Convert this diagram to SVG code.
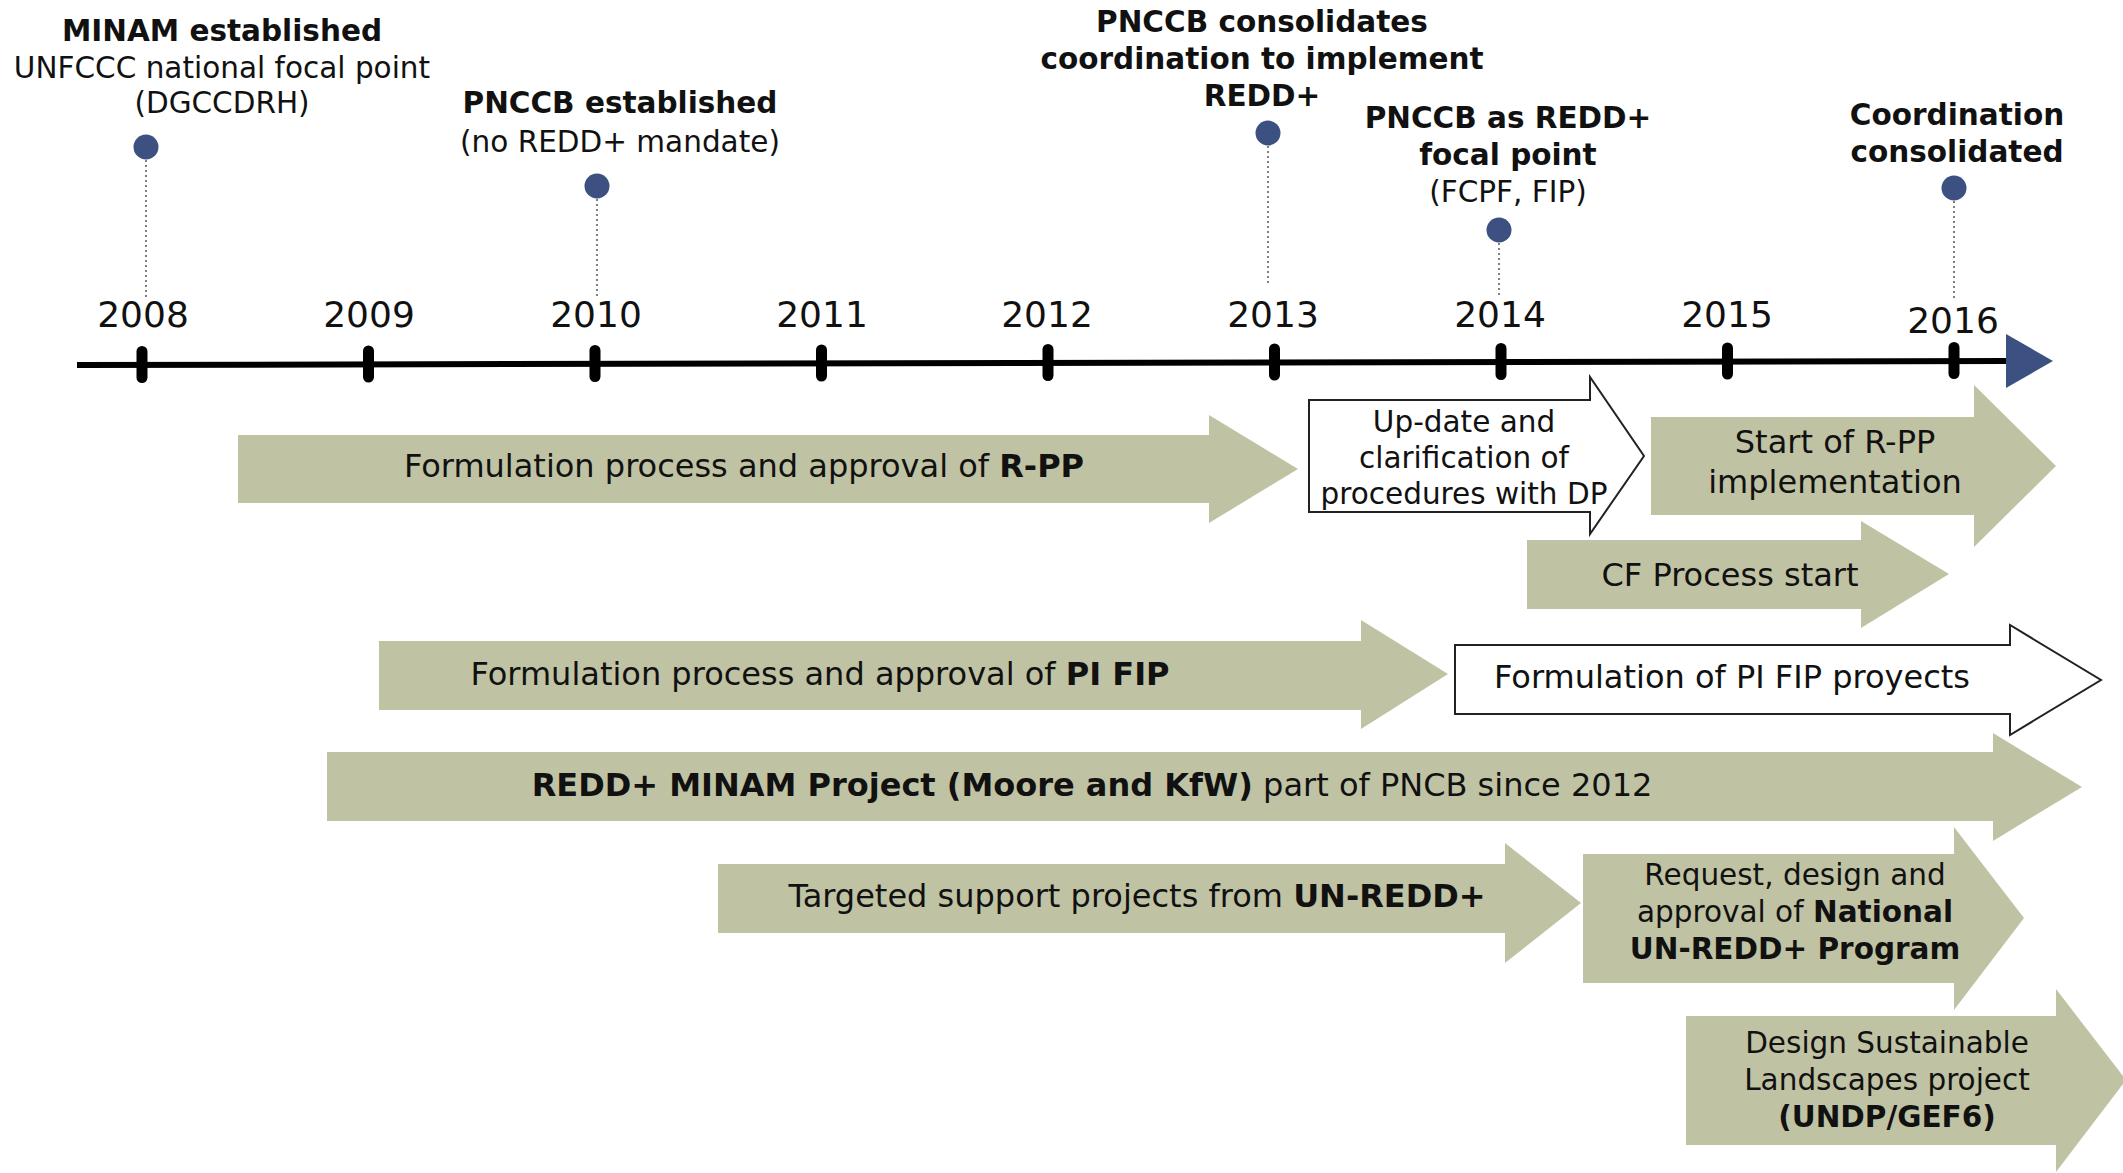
<svg xmlns="http://www.w3.org/2000/svg" width="2123" height="1173" viewBox="0 0 2123 1173">
<style>
text{font-family:"DejaVu Sans","Verdana",sans-serif;fill:#111;text-anchor:middle}
.lbl{font-size:29.5px}
.b{font-weight:bold}
.yr{font-size:36px;fill:#111}
.bar{fill:#c0c3a3}
.wbar{fill:#fff;stroke:#222;stroke-width:2}
.dot{fill:#3c5081}
.tick{fill:#000}
.lead{stroke:#555;stroke-width:1.5;stroke-dasharray:2 3;fill:none}
.t32{font-size:32px}
.t29{font-size:29.5px}
</style>

<g id="axis">
<line x1="77" y1="365" x2="2010" y2="361" stroke="#000" stroke-width="6"/>
<polygon points="2006,334 2053,361 2006,388" fill="#3c5081"/>
<rect class="tick" x="136.5" y="346" width="11" height="37" rx="5.5"/>
<rect class="tick" x="363" y="345.5" width="11" height="37" rx="5.5"/>
<rect class="tick" x="589.5" y="345" width="11" height="37" rx="5.5"/>
<rect class="tick" x="816" y="344.5" width="11" height="37" rx="5.5"/>
<rect class="tick" x="1042.5" y="344" width="11" height="37" rx="5.5"/>
<rect class="tick" x="1269" y="343.5" width="11" height="37" rx="5.5"/>
<rect class="tick" x="1495.5" y="343" width="11" height="37" rx="5.5"/>
<rect class="tick" x="1722" y="342.5" width="11" height="37" rx="5.5"/>
<rect class="tick" x="1948.5" y="342" width="11" height="37" rx="5.5"/>
<text class="yr" x="143" y="327">2008</text>
<text class="yr" x="369" y="327">2009</text>
<text class="yr" x="596" y="327">2010</text>
<text class="yr" x="822" y="327">2011</text>
<text class="yr" x="1047" y="327">2012</text>
<text class="yr" x="1273" y="327">2013</text>
<text class="yr" x="1500" y="327">2014</text>
<text class="yr" x="1727" y="327">2015</text>
<text class="yr" x="1953" y="333">2016</text>
</g>

<g id="connectors">
<line class="lead" x1="146" y1="160" x2="146" y2="298"/>
<line class="lead" x1="597" y1="199" x2="597" y2="298"/>
<line class="lead" x1="1268" y1="146" x2="1268" y2="285"/>
<line class="lead" x1="1499" y1="243" x2="1499" y2="295"/>
<line class="lead" x1="1954" y1="201" x2="1954" y2="300"/>
</g>

<g id="ev2008">
<circle class="dot" cx="146" cy="147" r="12.5"/>
<text class="lbl b" x="222" y="41">MINAM established</text>
<text class="lbl" x="222" y="78">UNFCCC national focal point</text>
<text class="lbl" x="222" y="113">(DGCCDRH)</text>
</g>
<g id="ev2010">
<circle class="dot" cx="597" cy="186" r="12.5"/>
<text class="lbl b" x="620" y="113">PNCCB established</text>
<text class="lbl" x="620" y="152">(no REDD+ mandate)</text>
</g>
<g id="ev2013">
<circle class="dot" cx="1268" cy="133" r="12.5"/>
<text class="lbl b" x="1262" y="32">PNCCB consolidates</text>
<text class="lbl b" x="1262" y="69">coordination to implement</text>
<text class="lbl b" x="1262" y="106">REDD+</text>
</g>
<g id="ev2014">
<circle class="dot" cx="1499" cy="230" r="12.5"/>
<text class="lbl b" x="1508" y="128">PNCCB as REDD+</text>
<text class="lbl b" x="1508" y="165">focal point</text>
<text class="lbl" x="1508" y="202">(FCPF, FIP)</text>
</g>
<g id="ev2016">
<circle class="dot" cx="1954" cy="188" r="12.5"/>
<text class="lbl b" x="1957" y="125">Coordination</text>
<text class="lbl b" x="1957" y="162">consolidated</text>
</g>

<g id="rpp">
<polygon class="bar" points="238,435 1209,435 1209,415 1298,469 1209,523 1209,503 238,503"/>
<text class="t32" x="744" y="477">Formulation process and approval of <tspan class="b">R-PP</tspan></text>
</g>
<g id="update">
<polygon class="wbar" points="1309,400 1590,400 1590,377 1644,456 1590,534 1590,512 1309,512"/>
<text class="t29" x="1464" y="432">Up-date and</text>
<text class="t29" x="1464" y="468">clarification of</text>
<text class="t29" x="1464" y="504">procedures with DP</text>
</g>
<g id="rppimpl">
<polygon class="bar" points="1651,417 1974,417 1974,385 2056,466 1974,547 1974,515 1651,515"/>
<text class="t32" x="1835" y="453">Start of R-PP</text>
<text class="t32" x="1835" y="493">implementation</text>
</g>
<g id="cf">
<polygon class="bar" points="1527,540 1861,540 1861,521 1949,574 1861,628 1861,609 1527,609"/>
<text class="t32" x="1730" y="586">CF Process start</text>
</g>
<g id="pifip">
<polygon class="bar" points="379,641 1361,641 1361,620 1448,674 1361,729 1361,710 379,710"/>
<text class="t32" x="820" y="685">Formulation process and approval of <tspan class="b">PI FIP</tspan></text>
</g>
<g id="pifipproj">
<polygon class="wbar" points="1455,645 2010,645 2010,625 2101,680 2010,735 2010,714 1455,714"/>
<text class="t32" x="1732" y="688">Formulation of PI FIP proyects</text>
</g>
<g id="minam">
<polygon class="bar" points="327,752 1993,752 1993,733 2082,787 1993,841 1993,821 327,821"/>
<text class="t32" x="1092" y="796"><tspan class="b">REDD+ MINAM Project (Moore and KfW)</tspan> part of PNCB since 2012</text>
</g>
<g id="unredd">
<polygon class="bar" points="718,864 1505,864 1505,843 1581,903 1505,963 1505,933 718,933"/>
<text class="t32" x="1137" y="907">Targeted support projects from <tspan class="b">UN-REDD+</tspan></text>
</g>
<g id="national">
<polygon class="bar" points="1583,854 1954,854 1954,827 2024,918 1954,1010 1954,983 1583,983"/>
<text class="t29" x="1795" y="885">Request, design and</text>
<text class="t29" x="1795" y="922">approval of <tspan class="b">National</tspan></text>
<text class="t29 b" x="1795" y="959">UN-REDD+ Program</text>
</g>
<g id="gef6">
<polygon class="bar" points="1686,1016 2056,1016 2056,989 2126,1080 2056,1172 2056,1145 1686,1145"/>
<text class="t29" x="1887" y="1053">Design Sustainable</text>
<text class="t29" x="1887" y="1090">Landscapes project</text>
<text class="t29 b" x="1887" y="1127">(UNDP/GEF6)</text>
</g>
</svg>
